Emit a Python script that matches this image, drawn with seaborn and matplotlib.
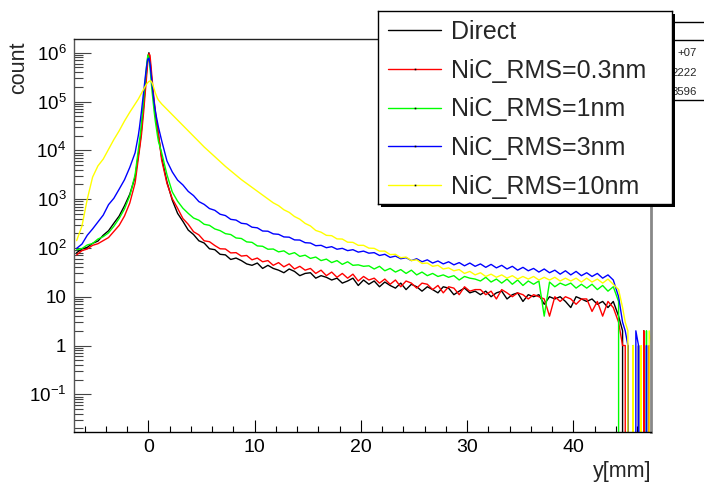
import numpy as np
import pandas as pd
import matplotlib
matplotlib.use("Agg")
import matplotlib.pyplot as plt
import seaborn as sns
from matplotlib.patches import Rectangle
from matplotlib.lines import Line2D
from matplotlib.ticker import LogLocator, NullFormatter, MultipleLocator

W, H = 704, 487

# bin edges in mm: 0.5 mm in the tails, 0.1 mm around the peak, 0.25 mm past the cut-off
edges = np.concatenate([
    np.linspace(-7.0, -1.0, 13)[:-1],
    np.linspace(-1.0, 1.0, 21)[:-1],
    np.linspace(1.0, 44.5, 88)[:-1],
    np.linspace(44.5, 47.5, 13),
])
centers = 0.5 * (edges[:-1] + edges[1:])

# counts per bin
direct = [
    80, 95, 103, 124, 138, 182, 225, 320, 450, 730, 1260, 2820,
    7940, 11200, 16600, 26300, 44700, 79400, 141000, 263000, 479000, 832000,
    1000000, 708000, 398000, 224000, 132000, 83200, 55000, 38000, 27500, 20000,
    7080, 2240, 950, 510, 350, 232, 188, 140, 126, 96,
    92, 74, 72, 58, 62, 55, 47, 44, 49, 38,
    44, 38, 35, 31, 37, 33, 27, 30, 31, 24,
    27, 25, 22, 24, 19, 21, 24, 17, 22, 18,
    21, 16, 20, 17, 15, 19, 14, 18, 16, 13,
    16, 14, 12, 16, 15, 11, 13, 15, 12, 13,
    11, 13, 10, 12, 13, 9, 11, 12, 8, 11,
    10, 11, 7, 10, 9, 10, 8, 6, 10, 9,
    8, 9, 7, 8, 6, 8, 4,
    2, 0, 1, 0, 0, 0, 1, 0, 2, 0, 0, 1,
]
rms_03 = [
    72, 88, 95, 113, 122, 141, 163, 218, 290, 450, 832, 2140,
    6610, 9330, 13500, 20900, 34700, 60300, 107000, 200000, 363000, 661000,
    955000, 891000, 525000, 288000, 166000, 100000, 63100, 42700, 30200, 21400,
    6310, 2090, 1020, 650, 400, 305, 215, 185, 140, 134,
    112, 96, 95, 79, 80, 68, 70, 57, 62, 52,
    55, 44, 50, 41, 47, 37, 42, 35, 38, 30,
    35, 27, 32, 25, 30, 24, 29, 21, 26, 22,
    24, 19, 23, 18, 22, 16, 21, 19, 15, 19,
    18, 14, 17, 12, 16, 15, 11, 16, 13, 14,
    14, 11, 13, 9, 14, 12, 10, 12, 11, 9,
    11, 10, 9, 4, 10, 8, 10, 9, 7, 9,
    9, 5, 8, 4, 8, 6, 3,
    1, 1, 0, 0, 0, 0, 0, 0, 2, 0, 1, 0,
]
rms_1 = [
    92, 97, 115, 123, 152, 170, 204, 278, 402, 628, 1175, 3160,
    10000, 14500, 21900, 35500, 60300, 105000, 191000, 339000, 603000, 891000,
    794000, 501000, 282000, 158000, 95500, 60300, 39800, 28200, 20400, 15100,
    8900, 3160, 1400, 905, 650, 510, 410, 370, 305, 290,
    245, 226, 196, 188, 160, 156, 133, 130, 110, 108,
    94, 95, 83, 87, 74, 80, 67, 71, 61, 65,
    55, 59, 50, 55, 46, 52, 44, 45, 42, 43,
    37, 42, 34, 38, 32, 36, 30, 35, 28, 32,
    27, 30, 26, 28, 25, 27, 22, 26, 24, 23,
    21, 25, 20, 23, 19, 23, 18, 22, 17, 21,
    18, 21, 4, 20, 16, 19, 17, 19, 15, 18,
    15, 18, 14, 17, 13, 16, 8,
    0, 0, 0, 0, 1, 0, 0, 0, 0, 2, 0, 1,
]
rms_3 = [
    98, 120, 182, 245, 338, 470, 770, 1040, 1600, 2490, 4470, 8910,
    20000, 28200, 41700, 63100, 100000, 158000, 251000, 380000, 562000, 741000,
    776000, 603000, 380000, 229000, 141000, 93300, 66100, 49000, 38000, 29500,
    15800, 6030, 3600, 2450, 1950, 1440, 1180, 890, 780, 640,
    590, 490, 460, 385, 372, 320, 310, 266, 258, 222,
    220, 194, 190, 168, 166, 146, 145, 128, 126, 111,
    113, 101, 106, 94, 98, 88, 92, 82, 86, 78,
    80, 70, 74, 64, 68, 60, 63, 55, 60, 52,
    57, 49, 54, 47, 52, 45, 50, 43, 49, 42,
    47, 40, 46, 39, 44, 37, 42, 35, 40, 34,
    38, 32, 37, 31, 35, 29, 34, 28, 33, 27,
    31, 26, 30, 24, 28, 22, 10,
    3, 2, 1, 0, 0, 2, 1, 0, 0, 1, 0, 0,
]
rms_10 = [
    141, 282, 1000, 2820, 4790, 6610, 10500, 16600, 25100, 39800, 60300, 89100,
    112000, 123000, 135000, 148000, 162000, 178000, 195000, 214000, 229000, 245000,
    257000, 263000, 263000, 240000, 209000, 178000, 151000, 132000, 117000, 107000,
    89100, 69200, 53700, 41700, 32400, 25100, 19500, 15100, 11700, 9330,
    7410, 5890, 4680, 3800, 3090, 2510, 2090, 1740, 1450, 1200,
    1010, 840, 735, 605, 535, 440, 388, 318, 282, 228,
    210, 181, 178, 153, 152, 131, 130, 113, 113, 99,
    98, 86, 86, 73, 74, 63, 65, 55, 57, 48,
    49, 42, 44, 37, 39, 34, 36, 30, 33, 28,
    31, 26, 29, 25, 28, 24, 27, 23, 26, 23,
    26, 22, 25, 22, 25, 21, 24, 21, 24, 20,
    24, 20, 23, 19, 23, 18, 14,
    6, 3, 2, 0, 1, 0, 0, 1, 0, 0, 2, 1,
]

labels = ["Direct", "NiC_RMS=0.3nm", "NiC_RMS=1nm", "NiC_RMS=3nm", "NiC_RMS=10nm"]
colors = ["#000000", "#ff0000", "#00ff00", "#0000ff", "#ffff00"]
series = [direct, rms_03, rms_1, rms_3, rms_10]

ytick_vals = [0.1, 1, 10, 100, 1e3, 1e4, 1e5, 1e6]
ytick_labels = [r"$\mathdefault{10^{-1}}$", "1", "10", r"$\mathdefault{10^{2}}$",
                r"$\mathdefault{10^{3}}$", r"$\mathdefault{10^{4}}$",
                r"$\mathdefault{10^{5}}$", r"$\mathdefault{10^{6}}$"]
xtick_vals = [0, 10, 20, 30, 40]

frames = []
for lab, vals in zip(labels, series):
    assert len(vals) == len(centers)
    frames.append(pd.DataFrame({"y": centers, "count": vals, "sample": lab}))
df = pd.concat(frames, ignore_index=True)

sns.set_style("ticks")
plt.rcParams["font.family"] = ["Liberation Sans", "DejaVu Sans"]

fig = plt.figure(figsize=(W / 100, H / 100), dpi=100)
ax = fig.add_axes([74 / W, 1 - 432 / H, 577 / W, 393 / H])
ax.set_yscale("log")

# ROOT draws the first histogram, then the others "same" on top
for lab, col in zip(labels, colors):
    sns.histplot(data=df[df["sample"] == lab], x="y", weights="count", bins=edges.tolist(),
                 element="poly", fill=False, color=col, linewidth=1.0, ax=ax)

ax.set_xlim(-7.0, 47.3)
ax.set_ylim(0.0169, 1.91e6)

ax.set_xticks(xtick_vals)
ax.set_xticklabels([str(v) for v in xtick_vals])
ax.xaxis.set_minor_locator(MultipleLocator(2))
ax.set_yticks(ytick_vals)
ax.set_yticklabels(ytick_labels)
ax.yaxis.set_minor_locator(LogLocator(base=10, subs=np.arange(2, 10), numticks=100))
ax.yaxis.set_minor_formatter(NullFormatter())

ax.tick_params(axis="x", which="major", direction="in", length=8.6, width=0.8,
               labelsize=14, pad=5, color="black", labelcolor="black")
ax.tick_params(axis="x", which="minor", direction="in", length=4.3, width=0.8, color="black")
ax.tick_params(axis="y", which="major", direction="in", length=12.5, width=0.8,
               labelsize=13.5, pad=5.5, color="#444444", labelcolor="black")
ax.tick_params(axis="y", which="minor", direction="in", length=6.2, width=0.8, color="#444444")

for side, col, lw in [("left", "#555555", 1.0), ("bottom", "black", 1.0),
                      ("top", "#222222", 1.0), ("right", "#888888", 2.0)]:
    ax.spines[side].set_visible(True)
    ax.spines[side].set_color(col)
    ax.spines[side].set_linewidth(lw)

ax.set_xlabel("y[mm]", fontsize=15.5)
ax.xaxis.set_label_coords(1.0, -0.074)
ax.xaxis.label.set_ha("right")
ax.set_ylabel("count", fontsize=15.5)
ax.yaxis.set_label_coords(-0.078, 0.993)
ax.yaxis.label.set_ha("right")

# statistics box, mostly hidden behind the legend: only the value ends show
fig.add_artist(Rectangle((600 / W, 1 - 100 / H), 120 / W, 78.3 / H, transform=fig.transFigure,
                         facecolor="white", edgecolor="black", linewidth=1, zorder=2))
fig.add_artist(Line2D([600 / W, 1.0], [1 - 40 / H, 1 - 40 / H], transform=fig.transFigure,
                      color="black", linewidth=1, zorder=2.1))
for yy, val in [(53, "+07"), (73, "2222"), (92, "3596")]:
    fig.text(697 / W, 1 - yy / H, val, ha="right", va="center", fontsize=8.2, zorder=3)

# legend box with a solid shadow, as drawn by ROOT
fig.add_artist(Rectangle((381 / W, 1 - 207 / H), 294 / W, 193 / H, transform=fig.transFigure,
                         facecolor="black", edgecolor="none", zorder=4))
lax = fig.add_axes([378 / W, 1 - 204 / H, 294 / W, 193 / H])
lax.set_zorder(5)
lax.set_facecolor("white")
lax.set_xlim(0, 294)
lax.set_ylim(193, 0)
lax.set_xticks([])
lax.set_yticks([])
for s in lax.spines.values():
    s.set_visible(True)
    s.set_color("black")
    s.set_linewidth(1.0)
for i, (lab, col) in enumerate(zip(labels, colors)):
    ry = 19 + 38.75 * i
    lax.plot([10, 63], [ry, ry], color=col, linewidth=1.0)
    if i > 0:
        lax.plot([36.5], [ry], marker="s", markersize=1.2, color="black", markeredgewidth=0)
    lax.text(73, ry + 8.8, lab, fontsize=18, va="baseline", ha="left")

fig.savefig("out.png", dpi=100)
